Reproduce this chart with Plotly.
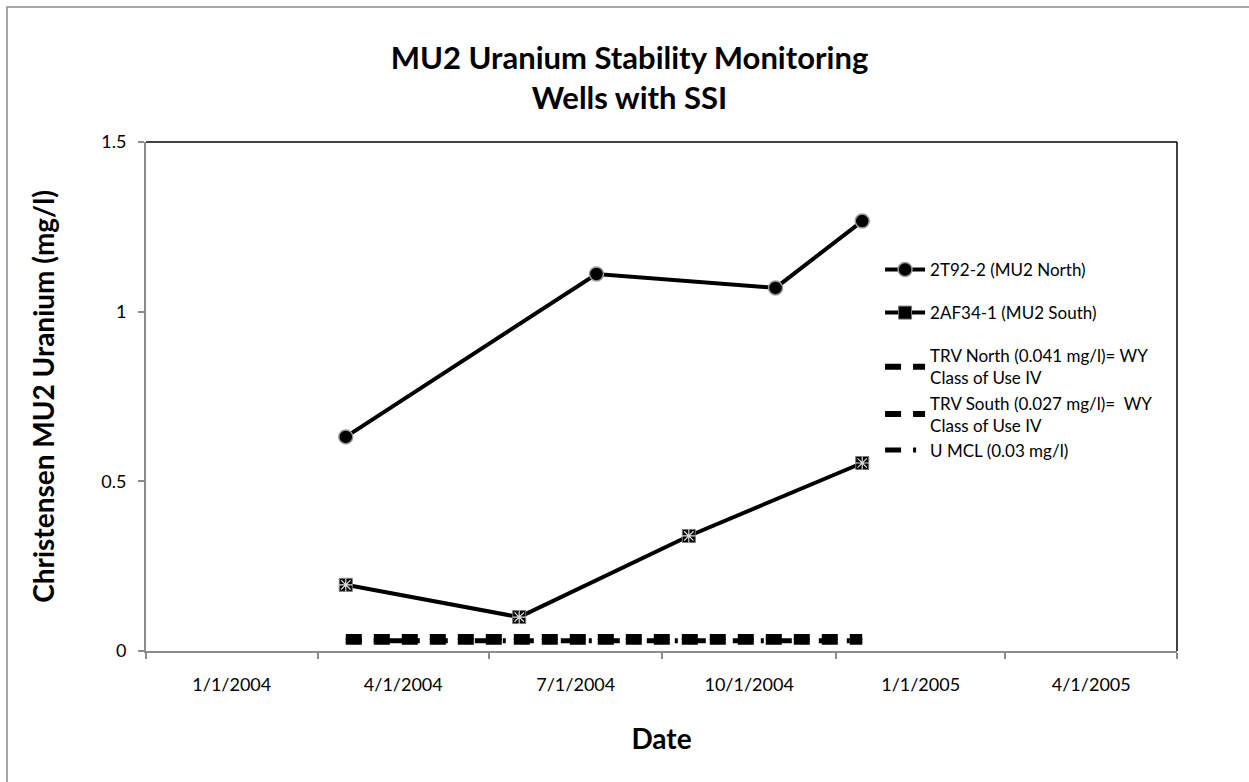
import plotly.graph_objects as go

# ---- data ----
north_dates = ["2004-04-16", "2004-08-27", "2004-11-30", "2005-01-15"]
north_values = [0.631, 1.111, 1.070, 1.267]

south_dates = ["2004-04-16", "2004-07-17", "2004-10-15", "2005-01-15"]
south_values = [0.195, 0.100, 0.339, 0.554]

limit_dates = ["2004-04-16", "2005-01-15"]
trv_north = [0.041, 0.041]
trv_south = [0.027, 0.027]
u_mcl = [0.03, 0.03]

series_names = [
    "2T92-2 (MU2 North)",
    "2AF34-1 (MU2 South)",
    "TRV North (0.041 mg/l)= WY<br>Class of Use IV",
    "TRV South (0.027 mg/l)=  WY<br>Class of Use IV",
    "U MCL (0.03 mg/l)",
]

FONT = "Lato"

fig = go.Figure()

fig.add_trace(go.Scatter(
    x=north_dates, y=north_values, name=series_names[0], legendgroup="a",
    mode="lines+markers",
    line=dict(color="black", width=4),
    marker=dict(symbol="circle", size=14, color="black",
                line=dict(color="#9a9a9a", width=1.5)),
))
fig.add_trace(go.Scatter(
    x=south_dates, y=south_values, name=series_names[1], legendgroup="b",
    mode="lines+markers",
    line=dict(color="black", width=4),
    marker=dict(symbol="square", size=13, color="black",
                line=dict(color="#777777", width=1)),
))
fig.add_trace(go.Scatter(
    x=south_dates, y=south_values, showlegend=False, hoverinfo="skip",
    mode="markers",
    marker=dict(symbol="asterisk-open", size=11, color="#dddddd",
                line=dict(color="#dddddd", width=1.2)),
))
fig.add_trace(go.Scatter(
    x=limit_dates, y=trv_north, name=series_names[2], legendgroup="c",
    mode="lines", line=dict(color="black", width=6, dash="16px,12px"),
))
fig.add_trace(go.Scatter(
    x=limit_dates, y=trv_south, name=series_names[3], legendgroup="c",
    mode="lines", line=dict(color="black", width=6, dash="16px,12px"),
))
fig.add_trace(go.Scatter(
    x=limit_dates, y=u_mcl, name=series_names[4], legendgroup="c",
    mode="lines", line=dict(color="black", width=5, dash="16px,12px,3px,12px"),
))

fig.update_layout(
    width=1249, height=782,
    margin=dict(l=146, r=72, t=142, b=131),
    paper_bgcolor="white", plot_bgcolor="white",
    font=dict(family=FONT, color="black", size=17),
    title=dict(
        text="<b>MU2 Uranium Stability Monitoring<br>Wells with SSI</b>",
        x=0.504, xanchor="center", y=0.912, yanchor="top",
        font=dict(family=FONT, size=31, color="black"),
    ),
    showlegend=True,
    legend=dict(
        x=0.712, y=0.784, xanchor="left", yanchor="top",
        bgcolor="rgba(0,0,0,0)", font=dict(family=FONT, size=17),
        tracegroupgap=18, itemwidth=40,
    ),
    xaxis=dict(
        type="date", range=["2004-01-01", "2005-07-01"],
        tick0="2004-01-01", dtick="M3", tickformat="%-m/%-d/%Y",
        ticklabelmode="period",
        showgrid=False, zeroline=False,
        showline=True, linecolor="#8c8c8c", linewidth=2,
        ticks="outside", ticklen=6, tickcolor="#8c8c8c", tickwidth=1.5,
        tickfont=dict(family=FONT, size=18),
        ticklabelstandoff=10,
        title=dict(text="<b>Date</b>", font=dict(family=FONT, size=28), standoff=36),
    ),
    yaxis=dict(
        range=[0, 1.5], tickvals=[0, 0.5, 1, 1.5], ticktext=["0", "0.5", "1", "1.5"],
        showgrid=False, zeroline=False,
        showline=True, linecolor="#8c8c8c", linewidth=2,
        ticks="outside", ticklen=6, tickcolor="#8c8c8c", tickwidth=1.5,
        tickfont=dict(family=FONT, size=18),
        ticklabelstandoff=8,
        title=dict(text="<b>Christensen MU2 Uranium (mg/l)</b>",
                   font=dict(family=FONT, size=28), standoff=38),
    ),
    shapes=[
        dict(type="line", xref="paper", yref="paper", x0=0, x1=1, y0=1, y1=1,
             line=dict(color="black", width=1.5)),
        dict(type="line", xref="paper", yref="paper", x0=1, x1=1, y0=0, y1=1,
             line=dict(color="black", width=1.5)),
        dict(type="rect", xref="paper", yref="paper",
             x0=-0.1348, x1=1.2, y0=-0.4, y1=1.2652,
             line=dict(color="#8c8c8c", width=1.5), layer="below"),
    ],
)

fig.write_html("out.html", config={"displayModeBar": False},
               post_script="document.body.style.margin='0px';")
